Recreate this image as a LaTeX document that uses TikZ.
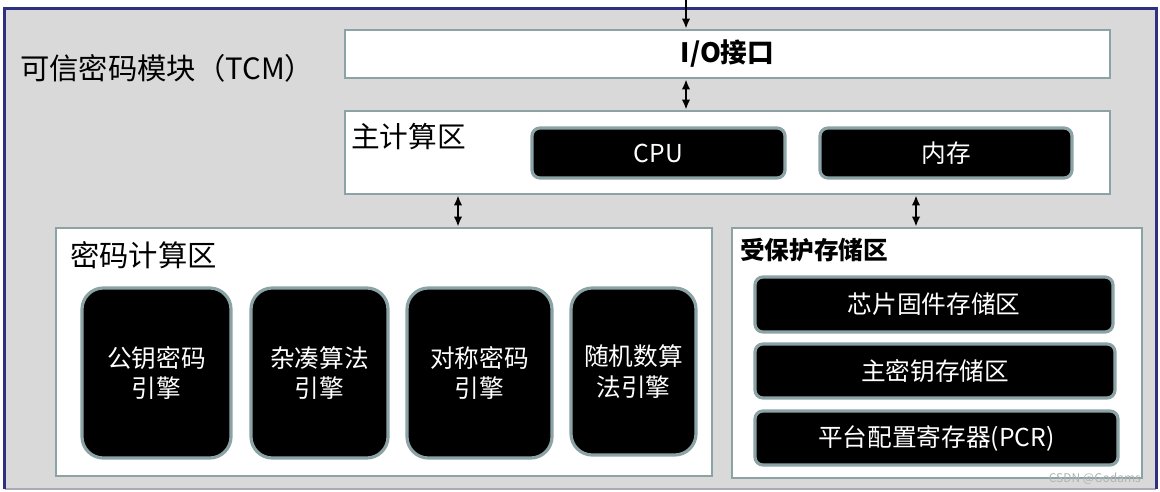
\documentclass[tikz,border=0pt]{standalone}
\usepackage{fontspec}
\newfontfamily\cjk{Noto Sans CJK SC}
\usetikzlibrary{arrows.meta}
\definecolor{bgGray}{HTML}{D9D9D9}
\definecolor{navyLine}{HTML}{2E3182}
\definecolor{tealLine}{HTML}{8CA3A6}
\definecolor{botLine}{HTML}{A9A9B8}
\tikzset{
  whitebox/.style={draw=tealLine, line width=2.2pt, fill=white, inner sep=0pt},
  blackbox/.style={draw=tealLine, line width=2.4pt, fill=black, inner sep=0pt, rounded corners=6pt,
                   text=white, font=\cjk\fontsize{18.5}{23}\selectfont, align=center},
  engine/.style={blackbox, rounded corners=16pt},
  zonelabel/.style={anchor=west, inner sep=0pt, font=\cjk\fontsize{21.5}{25}\selectfont},
  sz/.style 2 args={minimum width=#1*0.75pt, minimum height=#2*0.75pt},
  darr/.style={{Latex[length=7.5pt,width=6.5pt]}-{Latex[length=7.5pt,width=6.5pt]}, line width=1.4pt, black},
  sarr/.style={-{Latex[length=7.5pt,width=6.5pt]}, line width=1.4pt, black}
}
\begin{document}
\begin{tikzpicture}[x=0.75pt,y=-0.75pt]
\useasboundingbox (0,0) rectangle (1160,492);
\fill[white] (0,0) rectangle (1160,492);
% outer module
\node[sz={1151}{480}, fill=bgGray, inner sep=0pt] (tcm) at (580.5,249) {};
\draw[botLine, line width=1.5pt] (tcm.south west) -- (tcm.south east);
\draw[navyLine, line width=2pt] (tcm.south west) -- (tcm.north west) -- (tcm.north east) -- (tcm.south east);
\node[anchor=west, inner sep=0pt, font=\cjk\fontsize{22}{26}\selectfont] (title) at (20,68) {可信密码模块（TCM）};
% I/O
\node[whitebox, sz={765}{48}, font=\cjk\bfseries\fontsize{20}{24}\selectfont] (io) at (727.5,54) {I/O接口};
% main compute
\node[whitebox, sz={765}{83}] (main) at (727.5,152.5) {};
\node[zonelabel] (mainl) at (351,137) {主计算区};
\node[blackbox, sz={253}{50}] (cpu) at (658.5,153) {CPU};
\node[blackbox, sz={252}{50}] (mem) at (946,153) {内存};
% crypto compute
\node[whitebox, sz={656}{248}] (crypto) at (384,352) {};
\node[zonelabel, font=\cjk\fontsize{22}{26}\selectfont] (cryptol) at (70,255) {密码计算区};
\node[engine, sz={149}{170}] (e1) at (156.5,373) {公钥密码\\引擎};
\node[engine, sz={137}{170}] (e2) at (319.5,373) {杂凑算法\\引擎};
\node[engine, sz={145}{170}] (e3) at (479.5,373) {对称密码\\引擎};
\node[engine, sz={125}{167}] (e4) at (633.5,371.5) {随机数算\\法引擎};
% protected storage
\node[whitebox, sz={410}{250}] (prot) at (937,353) {};
\node[zonelabel, font=\cjk\bfseries\fontsize{18.5}{22}\selectfont] (protl) at (740,250) {受保护存储区};
\node[blackbox, sz={358}{55}] (chip) at (934,304.5) {芯片固件存储区};
\node[blackbox, sz={360}{54}] (mk) at (935,371) {主密钥存储区};
\node[blackbox, sz={363}{54}] (pcr) at (936.5,438) {平台配置寄存器(PCR)};
% connectors
\coordinate (top) at (686,0);
\coordinate (cx) at (458,0);
\coordinate (px) at (916,0);
\draw[sarr] (top) -- (top |- io.north);
\draw[darr] (top |- io.south) -- (top |- main.north);
\draw[darr] (cx |- main.south) -- (cx |- crypto.north);
\draw[darr] (px |- main.south) -- (px |- prot.north);
% watermark
\node[anchor=east, inner sep=0pt, text=gray!60, font=\cjk\fontsize{9}{10}\selectfont] (wm) at (1141,479) {CSDN @Godams};
\end{tikzpicture}
\end{document}
